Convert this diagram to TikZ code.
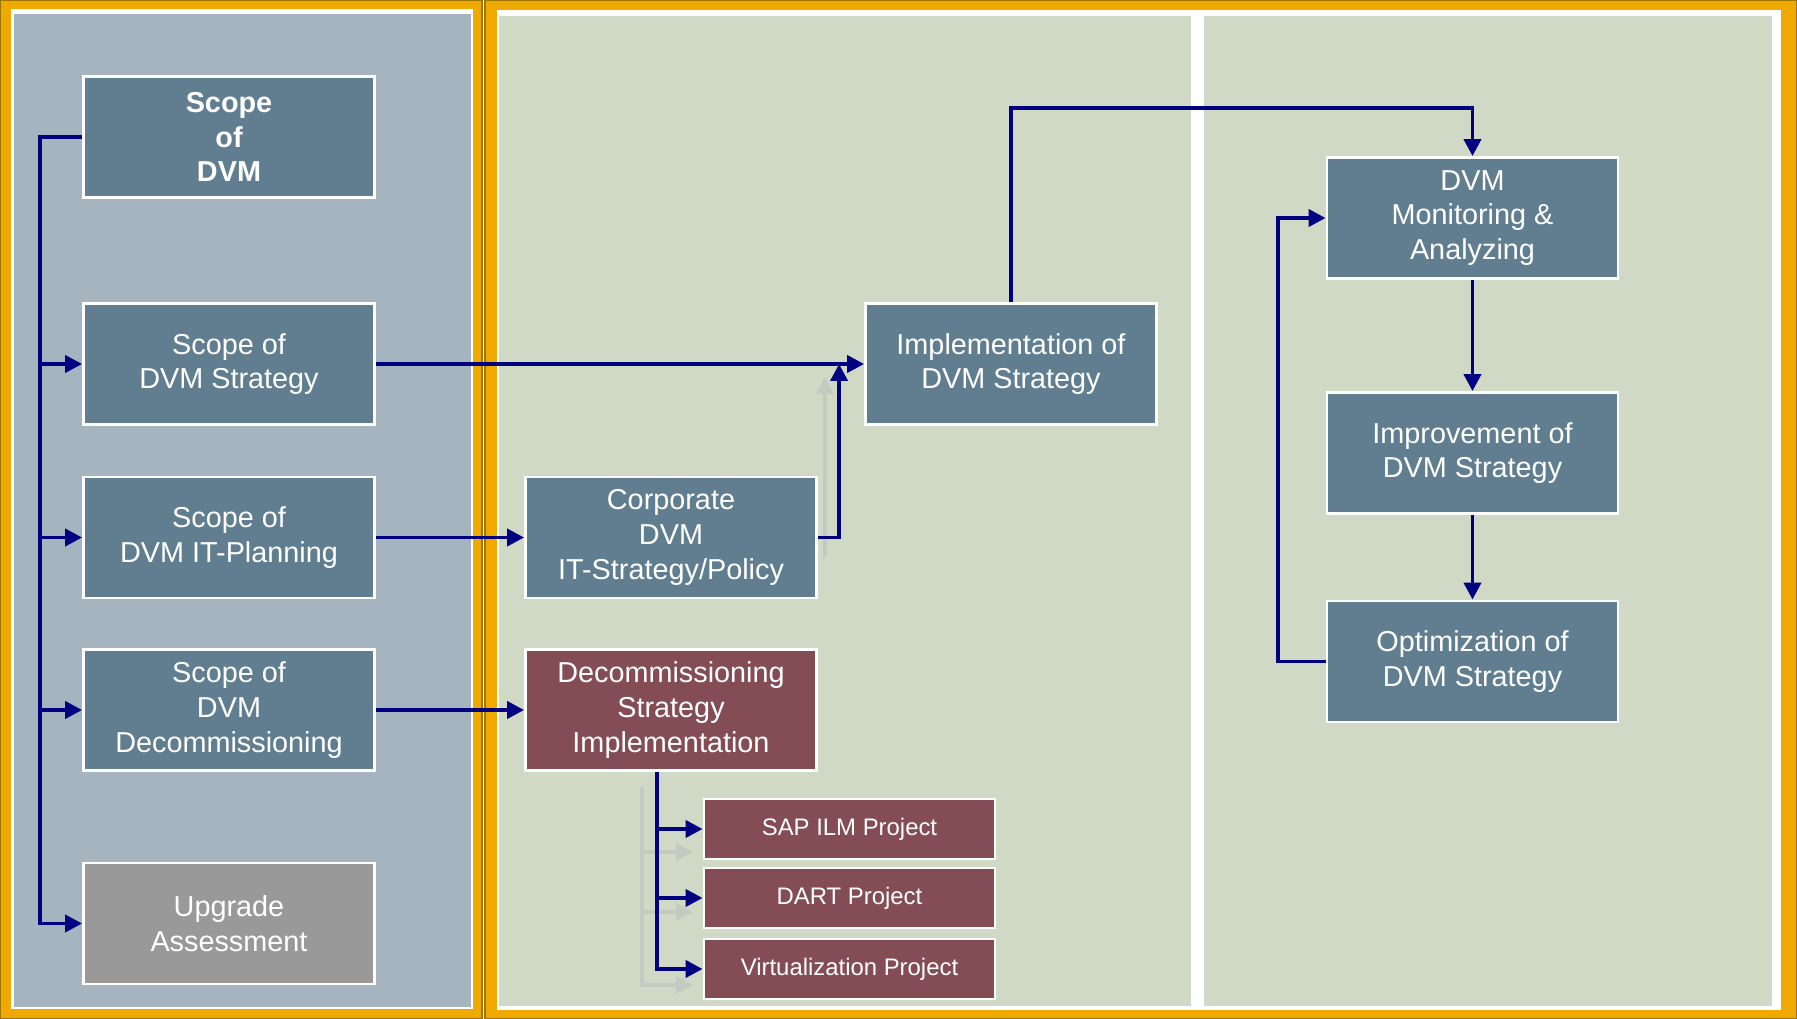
\documentclass[tikz,border=0pt]{standalone}
\usepackage{fontspec}
\setmainfont{Liberation Sans}
\usetikzlibrary{arrows.meta,positioning}

\definecolor{frameorange}{HTML}{EFA900}
\definecolor{framedark}{HTML}{9C7600}
\definecolor{leftfill}{HTML}{A5B4BE}
\definecolor{rightfill}{HTML}{D0D9C6}
\definecolor{boxblue}{HTML}{607E8F}
\definecolor{boxred}{HTML}{844C55}
\definecolor{boxgray}{HTML}{999999}
\definecolor{linknavy}{HTML}{000080}
\definecolor{ghost}{HTML}{C4CABF}

\begin{document}
\begin{tikzpicture}[node distance= 2cm,
    >={Triangle[length=4.8pt,width=4.8pt]},
    link/.style={draw=linknavy, line width=1.1pt, ->},
    ghostlink/.style={draw=ghost, line width=1pt, ->}]
  \useasboundingbox (0,0) rectangle (17.97,-10.19);
  % panels
  \fill[frameorange, draw=framedark, line width=0.4pt] (0,0) rectangle (4.82,-10.19);
  \fill[white] (0.11,-0.09) rectangle (4.73,-10.09);
  \fill[leftfill] (0.14,-0.14) rectangle (4.71,-10.07);
  \fill[frameorange, draw=framedark, line width=0.4pt] (4.85,0) rectangle (17.97,-10.19);
  \fill[white] (4.97,-0.10) rectangle (17.81,-10.10);
  \fill[rightfill] (4.99,-0.16) rectangle (11.91,-10.06);
  \fill[rightfill] (12.04,-0.16) rectangle (17.72,-10.06);

  % faint ghost arrows
  \coordinate (g1a) at (8.25,-5.57);
  \coordinate (g1b) at (8.25,-3.77);
  \coordinate (g2a) at (6.42,-7.87);
  \coordinate (g2b) at (6.42,-9.85);
  \draw[ghostlink] (g1a) -- (g1b);
  \draw[ghostlink] (g2a) |- (6.93,-8.52);
  \draw[ghostlink] (g2a) |- (6.93,-9.12);
  \draw[ghostlink] (g2a) |- (6.93,-9.85);

  \begin{scope}[every node/.style={rectangle, draw=white, line width=0.8pt,
      fill=boxblue, text=white, minimum width=2.91cm, minimum height=1.21cm,
      align=center, inner sep=0pt, font=\fontsize{8.2}{9.9}\selectfont}]
    \node (scope) at (2.29,-1.37) [font=\fontsize{8.2}{9.9}\selectfont\bfseries] {Scope\\of\\DVM};
    \node (strat) [below of= scope, node distance=2.27cm] {Scope of\\DVM Strategy};
    \node (itplan) [below of= strat, node distance=1.735cm] {Scope of\\DVM IT-Planning};
    \node (decom) [below of= itplan, node distance=1.725cm] {Scope of\\DVM\\Decommissioning};
    \node (upgrade) [below of= decom, node distance=2.135cm, fill=boxgray] {Upgrade\\Assessment};
    \node (corp) [right of= itplan, node distance=4.42cm] {Corporate\\DVM\\IT-Strategy/Policy};
    \node (decimpl) [right of= decom, node distance=4.42cm, fill=boxred] {Decommissioning\\Strategy\\Implementation};
    \node (impl) [right of= strat, node distance=7.82cm] {Implementation of\\DVM Strategy};
    \node (mon) at (14.725,-2.18) {DVM\\Monitoring \&\\Analyzing};
    \node (improv) [below of= mon, node distance=2.35cm] {Improvement of\\DVM Strategy};
    \node (opt) [below of= improv, node distance=2.085cm] {Optimization of\\DVM Strategy};
  \end{scope}
  \begin{scope}[every node/.style={rectangle, draw=white, line width=0.8pt,
      fill=boxred, text=white, minimum width=2.91cm, minimum height=0.60cm,
      inner sep=0pt, font=\fontsize{6.8}{8}\selectfont}]
    \node (sap) at (8.495,-8.29) {SAP ILM Project};
    \node (dart) [below of= sap, node distance=0.69cm] {DART Project};
    \node (virt) [below of= dart, node distance=0.71cm] {Virtualization Project};
  \end{scope}

  % connectors
  \coordinate (trunk) at ([xshift=-0.42cm]scope.west);
  \coordinate (join) at ([xshift=-0.25cm]impl.west);
  \coordinate (split) at ([xshift=-0.14cm]decimpl.south);
  \draw[link] (scope.west) -- (trunk) |- (upgrade.west);
  \begin{scope}[every edge/.style={draw=linknavy, line width=1.1pt, ->}]
    \path (trunk |- strat.west) edge (strat.west);
    \path (trunk |- itplan.west) edge (itplan.west);
    \path (trunk |- decom.west) edge (decom.west);
    \path (strat.east) edge (impl.west);
    \path (itplan.east) edge (corp.west);
    \path (decom.east) edge (decimpl.west);
    \path (mon.south) edge (improv.north);
    \path (improv.south) edge (opt.north);
  \end{scope}
  \draw[link] (corp.east) -| (join);
  \draw[link] (impl.north) -- ++(0,1.94) -| (mon.north);
  \draw[link] (opt.west) -- ++(-0.48,0) |- (mon.west);
  \draw[link] (split) |- (sap.west);
  \draw[link] (split) |- (dart.west);
  \draw[link] (split) |- (virt.west);
\end{tikzpicture}
\end{document}
